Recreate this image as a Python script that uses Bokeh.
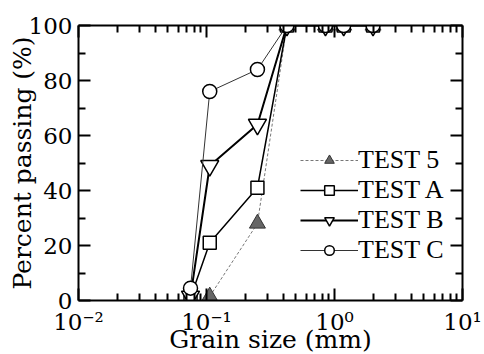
from bokeh.plotting import figure
from bokeh.models import (LogAxis, LinearAxis, FixedTicker, Legend, LegendItem,
                          Range1d)
from bokeh.embed import file_html
from bokeh.resources import INLINE

# ---- data ----
sizes = [0.075, 0.106, 0.25, 0.425, 0.85, 1.18, 2.0]
test5_sizes = [0.106, 0.25, 0.425, 0.85, 1.18, 2.0]
test5 = [1.5, 28, 100, 100, 100, 100]
testA = [1, 21, 41, 100, 100, 100, 100]
testB = [1.5, 49, 64, 100, 100, 100, 100]
testC = [4.5, 76, 84, 100, 100, 100, 100]

x_ticks = [0.01, 0.1, 1, 10]
x_tick_labels = ["10\u207b\u00b2", "10\u207b\u00b9", "10\u2070", "10\u00b9"]
y_ticks = [0, 20, 40, 60, 80, 100]
y_minor = [10, 30, 50, 70, 90]
x_minor = [m * 10.0 ** e for e in range(-2, 1) for m in range(2, 10)]

FONT = "DejaVu Serif"
LEG_FONT = "Liberation Serif"
TICK_FS = "23px"
LAB_FS = "25px"

p = figure(frame_width=384, frame_height=275, x_axis_type="log",
           x_range=Range1d(0.01, 10), y_range=Range1d(0, 100),
           output_backend="svg", toolbar_location=None,
           min_border_left=78, min_border_right=22,
           min_border_top=25, min_border_bottom=52)
p.outline_line_color = None
p.xgrid.visible = False
p.ygrid.visible = False
p.background_fill_color = "white"
p.border_fill_color = "white"


def style(ax, labels=True):
    ax.axis_line_width = 2
    ax.axis_line_color = "black"
    ax.major_tick_in = 12
    ax.major_tick_out = 0
    ax.minor_tick_in = 7
    ax.minor_tick_out = 0
    ax.major_tick_line_width = 2
    ax.minor_tick_line_width = 2
    ax.major_tick_line_color = "black"
    ax.minor_tick_line_color = "black"
    ax.major_label_text_font = FONT
    ax.major_label_text_font_size = TICK_FS if labels else "0px"
    ax.major_label_text_color = "black"
    ax.major_label_standoff = 6 if labels else 0
    ax.axis_label_text_font = FONT
    ax.axis_label_text_font_size = LAB_FS
    ax.axis_label_text_font_style = "normal"
    ax.axis_label_text_color = "black"


xa = p.xaxis[0]
xa.ticker = FixedTicker(ticks=x_ticks, minor_ticks=x_minor)
xa.major_label_overrides = {t: l for t, l in zip(x_ticks, x_tick_labels)}
style(xa)
xa.major_label_standoff = 8
xa.axis_label = "Grain size (mm)"
xa.axis_label_standoff = -13

ya = p.yaxis[0]
ya.ticker = FixedTicker(ticks=y_ticks, minor_ticks=y_minor)
style(ya)
ya.axis_label = "Percent passing (%)"
ya.axis_label_standoff = -11

top = LogAxis(ticker=FixedTicker(ticks=x_ticks, minor_ticks=x_minor))
style(top, labels=False)
top.major_label_overrides = {t: "" for t in x_ticks}
p.add_layout(top, "above")

right = LinearAxis(ticker=FixedTicker(ticks=y_ticks, minor_ticks=y_minor))
style(right, labels=False)
right.major_label_overrides = {t: "" for t in y_ticks}
p.add_layout(right, "right")

# ---- series ----
l5 = p.line(test5_sizes, test5, line_color="#777777", line_width=1, line_dash="3 2")
m5 = p.scatter(test5_sizes, test5, marker="triangle", size=16,
               fill_color="#666666", line_color="#333333", line_width=1)

lA = p.line(sizes, testA, line_color="black", line_width=1.5)
mA = p.scatter(sizes, testA, marker="square", size=13,
               fill_color="white", line_color="black", line_width=1.5)

lB = p.line(sizes, testB, line_color="black", line_width=2)
mB = p.scatter(sizes, testB, marker="inverted_triangle", size=18,
               fill_color="white", line_color="black", line_width=1.5)

lC = p.line(sizes, testC, line_color="#333333", line_width=1)
mC = p.scatter(sizes, testC, marker="circle", size=14,
               fill_color="white", line_color="black", line_width=1.5)

legend = Legend(items=[
    LegendItem(label="TEST 5", renderers=[l5, m5]),
    LegendItem(label="TEST A", renderers=[lA, mA]),
    LegendItem(label="TEST B", renderers=[lB, mB]),
    LegendItem(label="TEST C", renderers=[lC, mC]),
], location=(222, 35))
legend.border_line_color = None
legend.background_fill_alpha = 0
legend.padding = 0
legend.margin = 0
legend.spacing = 0
legend.glyph_width = 58
legend.glyph_height = 24
legend.label_height = 24
legend.label_standoff = 0
legend.label_text_font = LEG_FONT
legend.label_text_font_size = "26px"
legend.label_text_color = "black"
legend.label_text_baseline = "middle"
p.add_layout(legend, "center")

open("out.html", "w").write(file_html(p, INLINE))
